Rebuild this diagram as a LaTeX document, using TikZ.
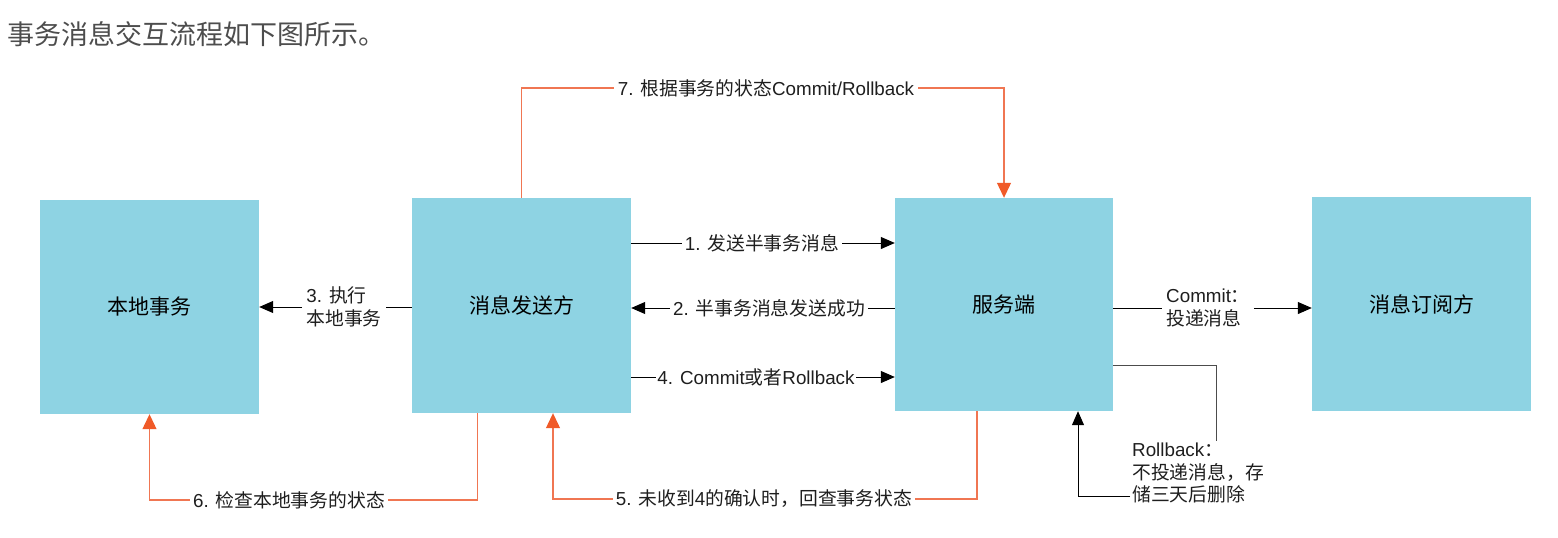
\documentclass[tikz,border=0pt]{standalone}
\usepackage{fontspec}
\setmainfont{Noto Sans CJK SC}
\newfontfamily\lat{Liberation Sans}
\usetikzlibrary{arrows.meta,calc}
\definecolor{boxblue}{RGB}{142,211,227}
\definecolor{org}{RGB}{240,118,82}
\definecolor{orgh}{RGB}{240,90,40}
\definecolor{titlegray}{RGB}{77,77,77}
\definecolor{txt}{RGB}{30,30,30}
\tikzset{
 box/.style={fill=boxblue, minimum width=219pt, minimum height=214pt, inner sep=0pt, font=\fontsize{21}{25}\selectfont},
 lbl/.style={font=\fontsize{18.8}{22.5}\selectfont, text=txt, inner sep=3pt, align=left},
 blk/.style={draw=black, line width=1pt, -{Triangle[length=14pt,width=12pt]}},
 bline/.style={draw=black, line width=1pt},
 gline/.style={draw=black!70, line width=1pt},
 oline/.style={draw=org, line width=1.2pt},
 oarr/.style={oline, -{Triangle[length=15pt,width=14pt,color=orgh,fill=orgh]}},
}
\begin{document}
\begin{tikzpicture}[x=1pt,y=-1pt]
\useasboundingbox (0,0) rectangle (1558,538);
\node[anchor=west, font=\fontsize{27}{30}\selectfont, text=titlegray, inner sep=0pt] (title) at (7,34) {事务消息交互流程如下图所示。};

\node[box] (local) at (149.5,307) {本地事务};
\node[box, minimum height=215pt] (send) at (521.5,305.5) {消息发送方};
\node[box, minimum width=218pt, minimum height=213pt] (server) at (1004,304.5) {服务端};
\node[box] (sub) at (1421.5,304) {消息订阅方};

% 1
\node[lbl] (l1) at (762,243) {{\lat 1. }发送半事务消息};
\draw[bline] (send.east |- l1.west) -- (l1.west);
\draw[blk] (l1.east) -- (server.west |- l1.east);
% 2
\node[lbl] (l2) at (769,308) {{\lat 2. }半事务消息发送成功};
\draw[bline] (server.west |- l2.east) -- (l2.east);
\draw[blk] (l2.west) -- (send.east |- l2.west);
% 4
\node[lbl, inner sep=1.5pt] (l4) at (756,377) {{\lat 4. Commit}或者{\lat Rollback}};
\draw[bline] (send.east |- l4.west) -- (l4.west);
\draw[blk] (l4.east) -- (server.west |- l4.east);
% 3
\node[lbl, inner sep=4pt] (l3) at (344,307) {{\lat 3. }执行\\本地事务};
\draw[bline] (send.west |- l3.east) -- (l3.east);
\draw[blk] (l3.west) -- (local.east |- l3.west);
% Commit
\node[lbl, inner sep=4pt] (lc) at (1208,308) {{\lat Commit}：\\投递消息};
\draw[bline] (server.east |- lc.west) -- (lc.west);
\draw[blk] (lc.east) -- (sub.west |- lc.east);
% Rollback
\node[lbl, anchor=north west, inner sep=2pt] (lrb) at (1130,441) {{\lat Rollback}：\\不投递消息，存\\储三天后删除};
\draw[gline] ($(server.east)+(0,60.5)$) -| ([xshift=86pt]lrb.north west);
\draw[blk] ([yshift=9pt]lrb.south west) -| ($(server.south)+(74,0)$);
% 7
\node[lbl, inner sep=4pt] (l7) at (766,88) {{\lat 7. }根据事务的状态{\lat Commit/Rollback}};
\draw[oline] (send.north) |- (l7.west);
\draw[oarr] (l7.east) -| (server.north);
% 6
\node[lbl, inner sep=3pt] (l6) at (289,500) {{\lat 6. }检查本地事务的状态};
\draw[oline] ($(send.south)+(-44,0)$) |- (l6.east);
\draw[oarr] (l6.west) -| (local.south);
% 5
\node[lbl, inner sep=3pt] (l5) at (764,499) {{\lat 5. }未收到{\lat 4}的确认时，回查事务状态};
\draw[oline] ($(server.south)+(-27,0)$) |- (l5.east);
\draw[oarr] (l5.west) -| ($(send.south)+(31.5,0)$);
\end{tikzpicture}
\end{document}
